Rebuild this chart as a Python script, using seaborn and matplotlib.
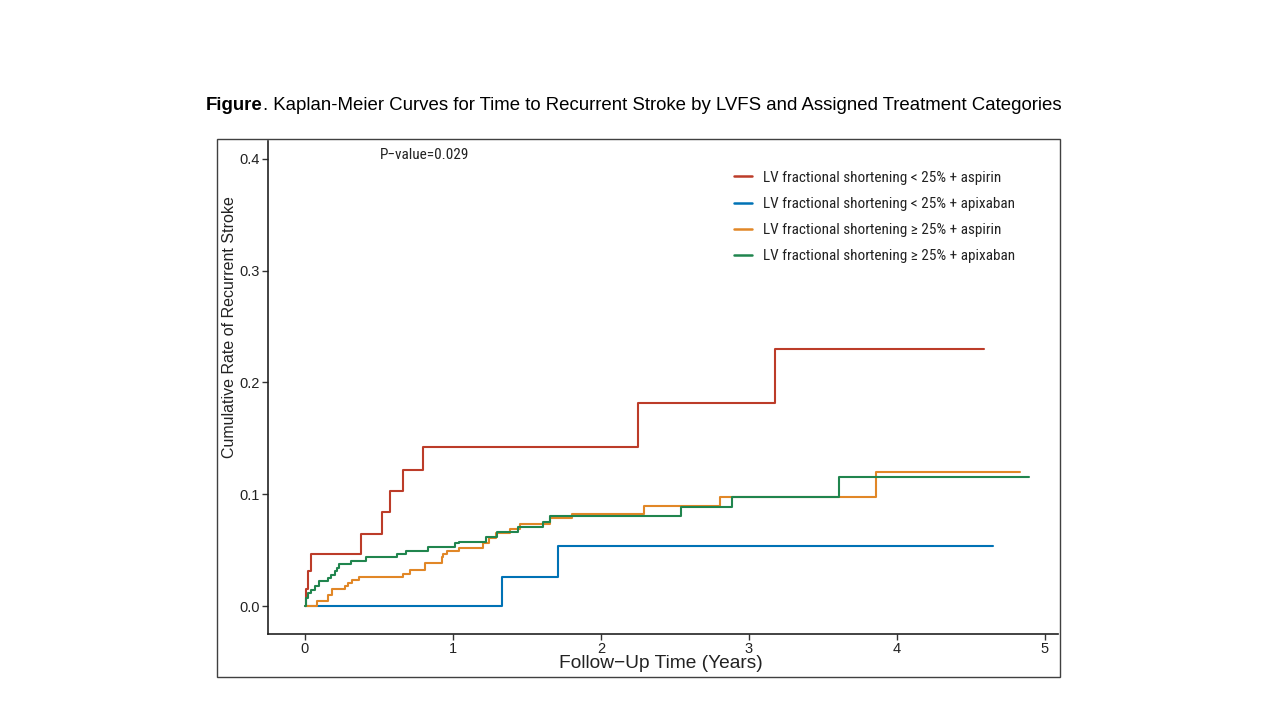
import matplotlib
matplotlib.use("Agg")
import matplotlib.pyplot as plt
import matplotlib.font_manager as fm
from matplotlib.patches import Rectangle
from matplotlib.lines import Line2D
import seaborn as sns
import pandas as pd

# ---- data ----
groups = [
    "LV fractional shortening < 25% + aspirin",
    "LV fractional shortening < 25% + apixaban",
    "LV fractional shortening \u2265 25% + aspirin",
    "LV fractional shortening \u2265 25% + apixaban",
]
colors = ["#BC3C29", "#0072B5", "#E18727", "#20854E"]

red_t = [0, 0.009, 0.02, 0.038, 0.38, 0.52, 0.577, 0.66, 0.80, 2.253, 3.177, 4.587]
red_v = [0, 0.0155, 0.031, 0.0465, 0.0644, 0.0844, 0.103, 0.122, 0.1425, 0.1816, 0.2297, 0.2297]

blue_t = [0, 1.33, 1.708, 4.654]
blue_v = [0, 0.026, 0.0537, 0.0537]

orange_t = [0, 0.079, 0.158, 0.18, 0.27, 0.293, 0.316, 0.368, 0.665, 0.71, 0.81, 0.925,
            0.936, 0.96, 1.04, 1.20, 1.245, 1.29, 1.387, 1.455, 1.658, 1.804, 2.29, 2.808,
            3.86, 4.83]
orange_v = [0, 0.0048, 0.0098, 0.0149, 0.0179, 0.0203, 0.0233, 0.0262, 0.0286, 0.032, 0.0388,
            0.044, 0.047, 0.0495, 0.0516, 0.0565, 0.0606, 0.065, 0.0686, 0.073, 0.0785, 0.0823,
            0.0895, 0.0978, 0.1202, 0.1202]

green_t = [0, 0.005, 0.02, 0.04, 0.065, 0.093, 0.156, 0.178, 0.20, 0.214, 0.23, 0.313, 0.415,
           0.62, 0.686, 0.832, 1.017, 1.04, 1.225, 1.297, 1.443, 1.608, 1.653, 2.54, 2.887,
           3.608, 4.894]
green_v = [0, 0.007, 0.012, 0.014, 0.018, 0.022, 0.025, 0.028, 0.031, 0.034, 0.038, 0.0405,
           0.0435, 0.0465, 0.0495, 0.053, 0.056, 0.0575, 0.062, 0.066, 0.0704, 0.0749, 0.0805,
           0.0889, 0.0978, 0.1157, 0.1157]

x_ticks = [0, 1, 2, 3, 4, 5]
y_ticks = [0.0, 0.1, 0.2, 0.3, 0.4]
y_tick_labels = ["0.0", "0.1", "0.2", "0.3", "0.4"]
p_text = "P\u2212value=0.029"
x_label = "Follow\u2212Up Time (Years)"
y_label = "Cumulative Rate of Recurrent Stroke"
title_bold = "Figure"
title_rest = ". Kaplan-Meier Curves for Time to Recurrent Stroke by LVFS and Assigned Treatment Categories"

rows = []
for g, ts, vs in zip(groups, [red_t, blue_t, orange_t, green_t], [red_v, blue_v, orange_v, green_v]):
    for t, v in zip(ts, vs):
        rows.append({"time": t, "rate": v, "group": g})
df = pd.DataFrame(rows)

sns.set_theme(style="white")
names = {f.name for f in fm.fontManager.ttflist}
narrow = next((n for n in ["Roboto Condensed", "Archivo Narrow", "PT Sans Narrow"] if n in names),
              "Liberation Sans")
plt.rcParams["font.family"] = ["Liberation Sans", "DejaVu Sans"]

W, H = 1280, 720
fig = plt.figure(figsize=(12.8, 7.2), dpi=100)
fig.patch.set_facecolor("white")

# outer frame
fig.patches.append(Rectangle((217 / W, 1 - 677 / H), (1060 - 217) / W, (677 - 139) / H,
                             transform=fig.transFigure, fill=False, edgecolor="#404040",
                             linewidth=1.0))

ax = fig.add_axes([268 / W, 1 - 634 / H, (1058 - 268) / W, (634 - 141) / H])
ax.set_facecolor("none")

sns.lineplot(data=df, x="time", y="rate", hue="group", hue_order=groups, palette=colors,
             estimator=None, drawstyle="steps-post", linewidth=1.5, ax=ax, legend=False,
             sort=False)

ax.set_xlim(-0.25, 5.09)
ax.set_ylim(-0.025, 0.416)
ax.set_xticks(x_ticks)
ax.set_xticklabels([str(t) for t in x_ticks])
ax.set_yticks(y_ticks)
ax.set_yticklabels(y_tick_labels)
for s in ["top", "right"]:
    ax.spines[s].set_visible(False)
for s in ["left", "bottom"]:
    ax.spines[s].set_color("#222222")
    ax.spines[s].set_linewidth(1.2)
ax.tick_params(axis="both", which="both", direction="out", length=4, width=1.0,
               color="#333333", labelsize=10.5, labelcolor="#222222", pad=2,
               left=True, bottom=True)
ax.set_xlabel("")
ax.set_ylabel("")

fig.text(661 / W, 1 - 663 / H, x_label, ha="center", va="center", fontsize=13.8, color="#222222")
fig.text(229 / W, 1 - 327 / H, y_label, ha="center", va="center", rotation=90,
         fontsize=11.5, color="#222222")

fig.text(425 / W, 1 - 155 / H, p_text, ha="center", va="center", fontsize=11,
         family=[narrow, "DejaVu Sans"], color="#222222")

# legend
handles = [Line2D([0], [0], color=c, lw=1.8) for c in colors]
leg = ax.legend(handles, groups, loc="upper left", bbox_to_anchor=(726 / W, 1 - 163 / H),
                bbox_transform=fig.transFigure, frameon=False, handlelength=1.2,
                handletextpad=0.7, labelspacing=0.8, borderpad=0,
                prop={"family": [narrow, "DejaVu Sans"], "size": 11})
for t in leg.get_texts():
    t.set_color("#222222")

# title
renderer = fig.canvas.get_renderer()
ty = 1 - 105 / H
t1 = fig.text(206 / W, ty, title_bold, ha="left", va="center", fontsize=13.45, weight="bold",
              color="black")
bb = t1.get_window_extent(renderer)
fig.text(bb.x1 / W, ty, title_rest, ha="left", va="center", fontsize=13.45, color="black")

fig.savefig("out.png", dpi=100, facecolor="white")
